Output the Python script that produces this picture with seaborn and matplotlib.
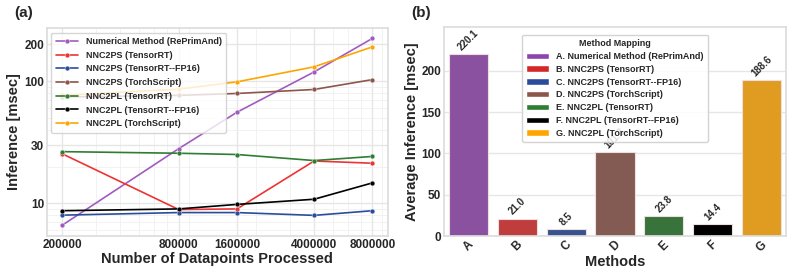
import numpy as np
import pandas as pd
import seaborn as sns
import matplotlib.pyplot as plt
from matplotlib.patches import Patch
from matplotlib.ticker import NullFormatter

# datos del grafico (a)
datapoints = [200000, 800000, 1600000, 4000000, 8000000]
methods = ["Numerical Method (RePrimAnd)", "NNC2PS (TensorRT)", "NNC2PS (TensorRT--FP16)",
           "NNC2PS (TorchScript)", "NNC2PL (TensorRT)", "NNC2PL (TensorRT--FP16)",
           "NNC2PL (TorchScript)"]
numerical = [6.6, 28.0, 55.7, 119.0, 224.0]
ps_trt = [25.5, 8.9, 9.0, 22.2, 21.3]
ps_fp16 = [8.0, 8.4, 8.4, 7.97, 8.7]
ps_torch = [74.3, 76.5, 79.3, 85.5, 103.0]
pl_trt = [26.5, 25.7, 25.1, 22.4, 24.2]
pl_fp16 = [8.7, 9.0, 9.8, 10.8, 14.7]
pl_torch = [76.7, 86.0, 98.7, 131.0, 191.0]

# datos del grafico (b)
letters = ["A", "B", "C", "D", "E", "F", "G"]
avg_inference = [220.1, 21.0, 8.5, 101.3, 23.8, 14.4, 188.6]

colors = ["#8e44ad", "#d62728", "#2a4d9b", "#8c564b", "#2e7d32", "#000000", "#ffa500"]
line_colors = ["#a15bc0", "#ee3333", "#2a4d9b", "#8c564b", "#2e7d32", "#000000", "#ffa500"]

sns.set_theme(style="whitegrid")
plt.rcParams['font.family'] = ['Liberation Sans', 'DejaVu Sans']
plt.rcParams['axes.edgecolor'] = '#dddddd'
plt.rcParams['grid.color'] = '#e6e6e6'

fig = plt.figure(figsize=(7.93, 2.78), dpi=100)
ax1 = fig.add_axes([0.059, 0.151, 0.430, 0.748])
ax2 = fig.add_axes([0.560, 0.151, 0.431, 0.752])

# ---- (a)
series = [numerical, ps_trt, ps_fp16, ps_torch, pl_trt, pl_fp16, pl_torch]
rows = []
for m, vals in zip(methods, series):
    for x, v in zip(datapoints, vals):
        rows.append({"Datapoints": x, "Inference": v, "Method": m})
df = pd.DataFrame(rows)

sns.lineplot(data=df, x="Datapoints", y="Inference", hue="Method", hue_order=methods,
             palette=dict(zip(methods, line_colors)), marker="o", markersize=3.5,
             markeredgewidth=0.3, linewidth=1.2, ax=ax1)
ax1.set_xscale('log')
ax1.set_yscale('log')
ax1.set_xticks(datapoints)
ax1.set_xticklabels([str(d) for d in datapoints])
ax1.xaxis.set_minor_formatter(NullFormatter())
ax1.set_yticks([10, 30, 100, 200])
ax1.set_yticklabels(["10", "30", "100", "200"])
ax1.yaxis.set_minor_formatter(NullFormatter())
ax1.set_ylim(5.4, 272)
ax1.set_xlim(167000, 9.6e6)
ax1.grid(True, which='minor', color='#f0f0f0', linewidth=0.6)
ax1.tick_params(axis='both', which='both', length=0, pad=2)
for lab in ax1.get_xticklabels() + ax1.get_yticklabels():
    lab.set_fontweight('bold')
    lab.set_fontsize(8.5)
ax1.set_xlabel("Number of Datapoints Processed", fontsize=10.5, fontweight='bold', labelpad=1)
ax1.set_ylabel("Inference [msec]", fontsize=10.5, fontweight='bold', labelpad=2)
leg1 = ax1.legend(loc='upper left', prop={'weight': 'bold', 'size': 6.5}, frameon=True,
                  framealpha=0.8, borderpad=0.5, labelspacing=0.52, handlelength=2.5)
fig.text(0.018, 0.955, "(a)", fontsize=11, fontweight='bold', va='center')

# ---- (b)
sns.barplot(x=letters, y=avg_inference, hue=letters, palette=colors, legend=False,
            edgecolor='#f0dede', linewidth=0.8, ax=ax2)
for i, v in enumerate(avg_inference):
    ax2.annotate(f"{v:.1f}", (i, v), xytext=(0, 1.5), textcoords='offset points',
                 rotation=45, ha='center', va='bottom', fontsize=7, fontweight='bold',
                 zorder=1)
ax2.set_ylim(0, 253)
ax2.set_yticks([0, 50, 100, 150, 200])
ax2.tick_params(axis='both', length=0, pad=2)
ax2.set_xticks(range(len(letters)))
ax2.set_xticklabels(letters, rotation=45)
for lab in ax2.get_xticklabels() + ax2.get_yticklabels():
    lab.set_fontweight('bold')
    lab.set_fontsize(8.5)
ax2.set_xlabel("Methods", fontsize=10.5, fontweight='bold', labelpad=1)
ax2.set_ylabel("Average Inference [msec]", fontsize=10.5, fontweight='bold', labelpad=2)
handles = [Patch(facecolor=c, edgecolor='white') for c in colors]
leg_labels = [f"{l}. {m}" for l, m in zip(letters, methods)]
leg2 = ax2.legend(handles, leg_labels, title="Method Mapping", loc='upper center',
                  bbox_to_anchor=(0.5, 0.985), prop={'weight': 'bold', 'size': 6.5},
                  title_fontproperties={'weight': 'bold', 'size': 6.5},
                  framealpha=0.85, borderpad=0.5, labelspacing=0.42, handlelength=2.5)
leg2.set_zorder(5)
fig.text(0.518, 0.955, "(b)", fontsize=11, fontweight='bold', va='center')

plt.savefig("out.png", dpi=100)
